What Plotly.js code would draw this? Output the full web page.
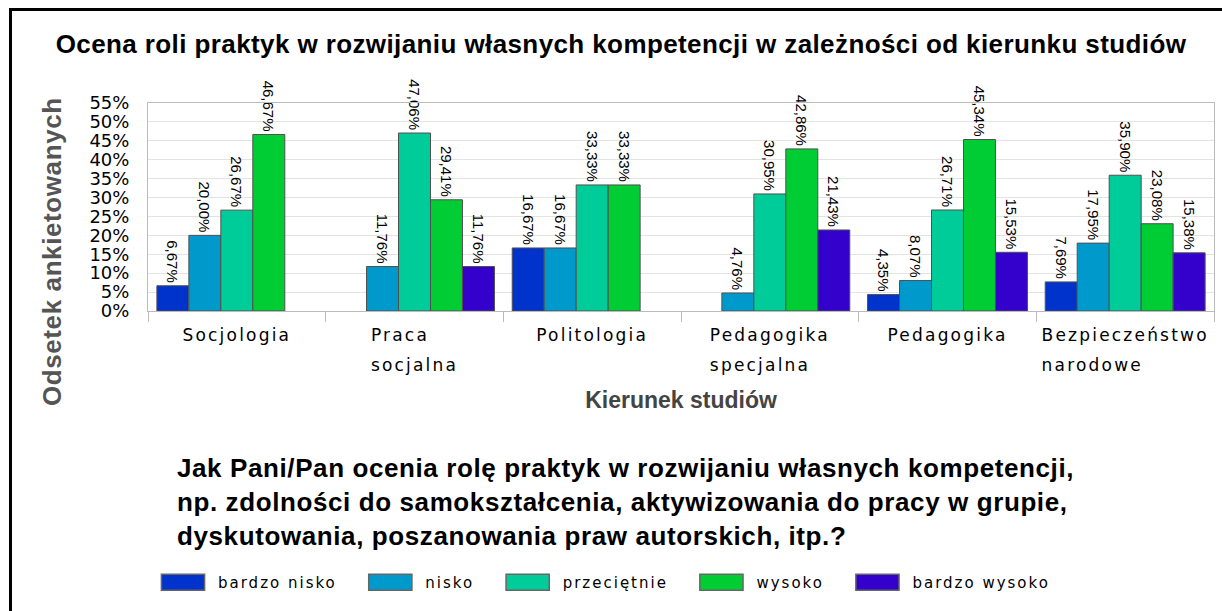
<!DOCTYPE html>
<html>
<head>
<meta charset="utf-8">
<script src="https://cdn.plot.ly/plotly-3.0.1.min.js"></script>
<style>
  html, body { margin: 0; padding: 0; background: #fff; }
  #wrap { position: relative; width: 1222px; height: 611px; overflow: hidden; }
  #chart { position: absolute; left: 0; top: 0; width: 1222px; height: 611px; }
  #frame { position: absolute; left: 9px; top: 8px; width: 1230px; height: 620px;
           border-top: 3px solid #000; border-left: 3px solid #000; pointer-events: none; }
  .xtick text { letter-spacing: 2.2px; }
  .legendtext { letter-spacing: 2px; }
  .gtitle { letter-spacing: 0.4px; }
  .annotation-text { letter-spacing: 0.6px; }
</style>
</head>
<body>
<div id="wrap">
  <div id="chart"></div>
  <div id="frame"></div>
</div>
<script>
const categories = ['Socjologia', 'Praca<br>socjalna', 'Politologia', 'Pedagogika<br>specjalna', 'Pedagogika', 'Bezpieczeństwo<br>narodowe'];
const seriesNames = ['bardzo nisko', 'nisko', 'przeciętnie', 'wysoko', 'bardzo wysoko'];
const bardzoNisko  = [6.67, null, 16.67, null, 4.35, 7.69];
const nisko        = [20.00, 11.76, 16.67, 4.76, 8.07, 17.95];
const przecietnie  = [26.67, 47.06, 33.33, 30.95, 26.71, 35.90];
const wysoko       = [46.67, 29.41, 33.33, 42.86, 45.34, 23.08];
const bardzoWysoko = [null, 11.76, null, 21.43, 15.53, 15.38];
const seriesValues = [bardzoNisko, nisko, przecietnie, wysoko, bardzoWysoko];
const seriesColors = ['#0033CC', '#0099CC', '#00CC99', '#00CC33', '#3300CC'];
const yTickVals = [0, 5, 10, 15, 20, 25, 30, 35, 40, 45, 50, 55];
const yTickText = yTickVals.map(v => v + '%');

const chartTitle = 'Ocena roli praktyk w rozwijaniu własnych kompetencji w zależności od kierunku studiów';
const xTitle = 'Kierunek studiów';
const yTitle = 'Odsetek ankietowanych';
const questionText = 'Jak Pani/Pan ocenia rolę praktyk w rozwijaniu własnych kompetencji,<br>np. zdolności do samokształcenia, aktywizowania do pracy w grupie,<br>dyskutowania, poszanowania praw autorskich, itp.?';

const fmt = v => (v === null ? '' : v.toFixed(2).replace('.', ',') + '%');
const legendPad = '\u00a0\u00a0';

const traces = seriesValues.map((vals, i) => ({
  type: 'bar',
  name: seriesNames[i] + legendPad,
  x: categories,
  y: vals,
  text: vals.map(fmt),
  textposition: 'outside',
  textangle: 90,
  constraintext: 'none',
  cliponaxis: false,
  textfont: { family: 'Liberation Sans, Arial, sans-serif', size: 15, color: '#000' },
  marker: { color: seriesColors[i], line: { color: '#505050', width: 1 } },
  hoverinfo: 'skip'
}));

const layout = {
  width: 1222, height: 611,
  margin: { l: 148, r: 8, t: 103, b: 300 },
  paper_bgcolor: '#fff', plot_bgcolor: '#fff',
  barmode: 'group', bargap: 0.1, bargroupgap: 0,
  showlegend: true,
  title: {
    text: '<b>' + chartTitle + '</b>',
    font: { family: 'Liberation Sans, Arial, sans-serif', size: 26, color: '#000' },
    x: 621 / 1222, xanchor: 'center', xref: 'container',
    y: 1 - 44 / 611, yanchor: 'middle', yref: 'container'
  },
  xaxis: {
    type: 'category',
    tickson: 'boundaries',
    ticks: 'outside', ticklen: 10, tickcolor: '#BBBBBB', tickwidth: 1,
    ticklabelstandoff: 9,
    showline: true, linecolor: '#BBBBBB', linewidth: 1, mirror: true,
    showgrid: false,
    tickfont: { family: 'DejaVu Sans, sans-serif', size: 17, color: '#000' },
    title: { text: '<b>' + xTitle + '</b>', font: { family: 'Liberation Sans, Arial, sans-serif', size: 23, color: '#444' }, standoff: 25 },
    fixedrange: true
  },
  yaxis: {
    range: [0, 55],
    tickvals: yTickVals,
    ticktext: yTickText,
    ticks: '', ticklabelstandoff: 14,
    showline: true, linecolor: '#BBBBBB', linewidth: 1, mirror: true,
    showgrid: true, gridcolor: '#E3E3E3', gridwidth: 1,
    zeroline: false,
    tickfont: { family: 'DejaVu Sans, sans-serif', size: 18, color: '#000' },
    fixedrange: true
  },
  legend: {
    orientation: 'h',
    x: 0, xanchor: 'left',
    y: -1.305, yanchor: 'middle',
    font: { family: 'DejaVu Sans, sans-serif', size: 15, color: '#000' },
    itemwidth: 60, traceorder: 'normal',
    bgcolor: 'rgba(0,0,0,0)'
  },
  annotations: [
    {
      text: '<b>' + yTitle + '</b>', textangle: -90,
      xref: 'paper', yref: 'paper', x: -0.09, y: (311 - 252) / 208,
      xanchor: 'center', yanchor: 'middle', showarrow: false,
      font: { family: 'Liberation Sans, Arial, sans-serif', size: 26, color: '#555' }
    },
    {
      text: '<b>' + questionText + '</b>', align: 'left',
      xref: 'paper', yref: 'paper', x: 0.0253, y: -0.675,
      xanchor: 'left', yanchor: 'top', showarrow: false,
      font: { family: 'Liberation Sans, Arial, sans-serif', size: 26, color: '#000' }
    }
  ]
};

Plotly.newPlot('chart', traces, layout, { displayModeBar: false, staticPlot: true }).then(() => {
  // left-align multi-line category labels as a block centred on the category, with wider line spacing
  document.querySelectorAll('.xtick text').forEach(t => {
    const lines = t.querySelectorAll('tspan.line');
    if (lines.length > 1) {
      lines.forEach((l, i) => { if (i > 0) l.setAttribute('dy', '1.75em'); });
      const bb = t.getBBox();
      const left = bb.x;
      t.setAttribute('text-anchor', 'start');
      t.setAttribute('x', left);
      lines.forEach(l => l.setAttribute('x', left));
    }
  });
  // enlarge legend swatches to wide boxes
  document.querySelectorAll('.legendpoints path').forEach(p => {
    const tr = p.getAttribute('transform') || '';
    p.setAttribute('transform', tr + ' scale(3.6,1.33)');
    p.style.vectorEffect = 'non-scaling-stroke';
    p.style.stroke = '#666';
    p.style.strokeWidth = '1.5px';
  });
});
</script>
</body>
</html>
